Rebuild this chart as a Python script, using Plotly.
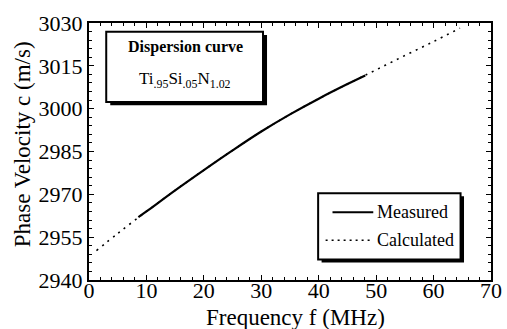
import plotly.graph_objects as go

# Data
meas_f = [8.6, 10, 15, 20, 25, 30, 35, 40, 45, 48.1]
meas_c = [2962.0, 2964.0, 2971.4, 2978.5, 2985.4, 2992.0, 2998.0, 3003.5, 3008.6, 3011.6]
calc_f = [1.3, 5, 10, 15, 20, 25, 30, 35, 40, 45, 50, 55, 60, 64.6]
calc_c = [2950.3, 2956.3, 2964.0, 2971.4, 2978.5, 2985.4, 2992.0, 2998.0, 3003.5, 3008.6,
          3013.6, 3018.6, 3023.5, 3028.2]

x_ticks = [0, 10, 20, 30, 40, 50, 60, 70]
y_ticks = [2940, 2955, 2970, 2985, 3000, 3015, 3030]

FONT = "Liberation Serif, Tinos, 'Times New Roman', 'DejaVu Serif', serif"

fig = go.Figure()
fig.add_trace(go.Scatter(x=calc_f, y=calc_c, mode="lines", name="Calculated",
                         line=dict(color="black", width=1.6, dash="2px,5px", shape="spline")))
fig.add_trace(go.Scatter(x=meas_f, y=meas_c, mode="lines", name="Measured",
                         line=dict(color="black", width=2.2, shape="spline")))

axis_common = dict(showgrid=False, zeroline=False, showline=True, linecolor="black", linewidth=2,
                   mirror="allticks", ticks="inside", ticklen=5, tickwidth=1.2, tickcolor="black",
                   automargin=False,
                   tickfont=dict(family=FONT, size=22, color="black"))
fig.update_xaxes(range=[0, 70], tickvals=x_ticks, ticktext=[str(v) for v in x_ticks],
                 minor=dict(dtick=2, ticks="inside", ticklen=3, tickcolor="black", tickwidth=1),
                 ticklabelstandoff=-10,
                 **axis_common)
fig.update_yaxes(range=[2940, 3030], tickvals=y_ticks, ticktext=[str(v) for v in y_ticks],
                 minor=dict(dtick=3, ticks="inside", ticklen=3, tickcolor="black", tickwidth=1),
                 **axis_common)

shapes = []
# Title box with shadow
shapes.append(dict(type="rect", xref="x", yref="y", x0=3.7, x1=31.0, y0=3001.2, y1=3025.8,
                   fillcolor="black", line=dict(width=0)))
shapes.append(dict(type="rect", xref="x", yref="y", x0=3.0, x1=30.3, y0=3002.3, y1=3026.9,
                   fillcolor="white", line=dict(color="black", width=2)))
# Legend box with shadow
shapes.append(dict(type="rect", xref="x", yref="y", x0=40.5, x1=65.3, y0=2946.1, y1=2969.3,
                   fillcolor="black", line=dict(width=0)))
shapes.append(dict(type="rect", xref="x", yref="y", x0=39.9, x1=64.7, y0=2947.2, y1=2970.4,
                   fillcolor="white", line=dict(color="black", width=2)))
# Legend samples
shapes.append(dict(type="line", xref="x", yref="y", x0=42.4, x1=49.5, y0=2963.7, y1=2963.7,
                   line=dict(color="black", width=2)))
shapes.append(dict(type="line", xref="x", yref="y", x0=41.2, x1=49.5, y0=2953.9, y1=2953.9,
                   line=dict(color="black", width=1.4, dash="2px,4px")))
fig.update_layout(shapes=shapes)

annotations = [
    dict(x=16.8, y=3021.5, xref="x", yref="y", text="<b>Dispersion curve</b>", showarrow=False,
         font=dict(family=FONT, size=16, color="black")),
    dict(x=16.8, y=3010.0, xref="x", yref="y",
         text="Ti<sub>.95</sub>Si<sub>.05</sub>N<sub>1.02</sub>", showarrow=False,
         font=dict(family=FONT, size=17, color="black")),
    dict(x=49.8, y=2963.7, xref="x", yref="y", text="Measured", showarrow=False, xanchor="left",
         font=dict(family=FONT, size=18, color="black")),
    dict(x=49.8, y=2953.9, xref="x", yref="y", text="Calculated", showarrow=False, xanchor="left",
         font=dict(family=FONT, size=18, color="black")),
    # axis titles
    dict(x=0.513, y=-0.146, xref="paper", yref="paper", text="Frequency f (MHz)", showarrow=False,
         xanchor="center", yanchor="middle", font=dict(family=FONT, size=23, color="black")),
    dict(x=-0.166, y=0.529, xref="paper", yref="paper", text="Phase Velocity c (m/s)", showarrow=False,
         textangle=-90, xanchor="center", yanchor="middle", font=dict(family=FONT, size=23, color="black")),
]
fig.update_layout(annotations=annotations)

fig.update_layout(width=507, height=329, showlegend=False,
                  margin=dict(l=89, r=16, t=23, b=49, autoexpand=False),
                  font=dict(family=FONT, color="black"),
                  paper_bgcolor="white", plot_bgcolor="white")

fig.write_html("out.html")
